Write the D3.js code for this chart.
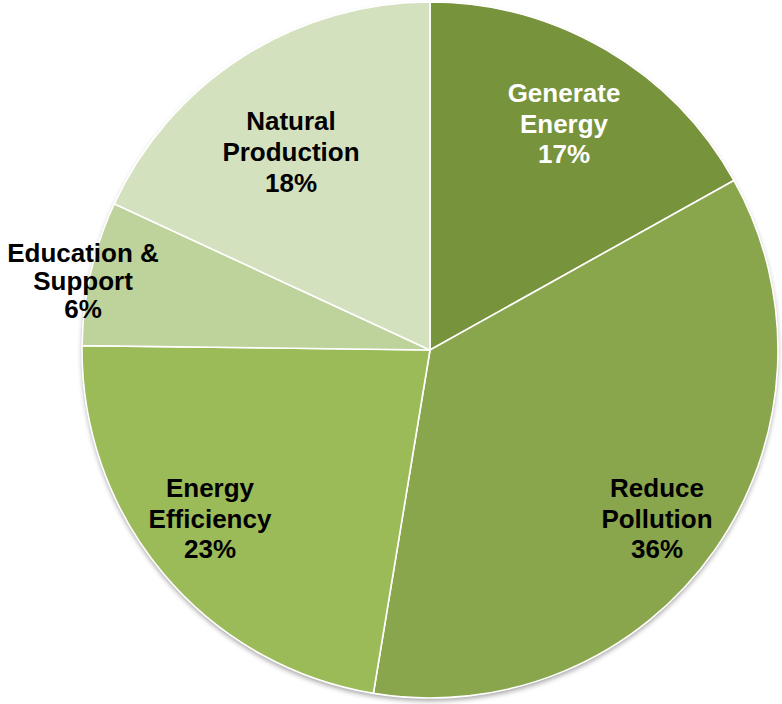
<!DOCTYPE html>
<html>
<head>
<meta charset="utf-8">
<script src="https://cdn.jsdelivr.net/npm/d3@7"></script>
<style>
  html, body { margin: 0; padding: 0; background: #fff; }
  svg { display: block; }
</style>
</head>
<body>
<svg id="chart" width="782" height="704"></svg>
<script>
// Data (clockwise from 12 o'clock)
const categories = ["Generate Energy", "Reduce Pollution", "Energy Efficiency", "Education & Support", "Natural Production"];
const values = [16.9, 35.7, 22.6, 6.7, 18.1];
const percentLabels = ["17%", "36%", "23%", "6%", "18%"];
const labelLines = [["Generate", "Energy"], ["Reduce", "Pollution"], ["Energy", "Efficiency"], ["Education &", "Support"], ["Natural", "Production"]];

// Styling / layout
const colors = ["#77933C", "#8AA64C", "#9BBB59", "#BED29B", "#D4E1BF"];
const textColors = ["#ffffff", "#000000", "#000000", "#000000", "#000000"];
const labelPos = [[564, 102, 30.5], [657, 497, 30.5], [210, 497, 30.5], [83, 262, 28], [291, 130, 31]];

const svg = d3.select("#chart");
const cx = 430, cy = 350, R = 348;

const defs = svg.append("defs");
const f = defs.append("filter").attr("id", "shadow").attr("x", "-10%").attr("y", "-10%").attr("width", "120%").attr("height", "120%");
f.append("feDropShadow").attr("dx", 0).attr("dy", 3).attr("stdDeviation", 2.5).attr("flood-color", "#000").attr("flood-opacity", 0.35);

const pie = d3.pie().sort(null).value(d => d);
const arcs = pie(values);
const arc = d3.arc().innerRadius(0).outerRadius(R);

const g = svg.append("g").attr("transform", `translate(${cx},${cy})`);

// shadow base
g.append("circle").attr("r", R).attr("fill", "#fff").attr("filter", "url(#shadow)");

g.selectAll("path.slice")
  .data(arcs)
  .join("path")
  .attr("class", "slice")
  .attr("d", arc)
  .attr("fill", (d, i) => colors[i])
  .attr("stroke", "#ffffff")
  .attr("stroke-width", 1.6)
  .attr("stroke-linejoin", "round");

const labels = svg.append("g")
  .attr("font-family", "'Liberation Sans', Arial, sans-serif")
  .attr("font-weight", "bold")
  .attr("font-size", 26)
  .attr("text-anchor", "middle");

categories.forEach((c, i) => {
  const [x, y, lh] = labelPos[i];
  const lines = labelLines[i].concat([percentLabels[i]]);
  const t = labels.append("text").attr("fill", textColors[i]);
  lines.forEach((ln, j) => {
    t.append("tspan").attr("x", x).attr("y", y + j * lh).text(ln);
  });
});
</script>
</body>
</html>
